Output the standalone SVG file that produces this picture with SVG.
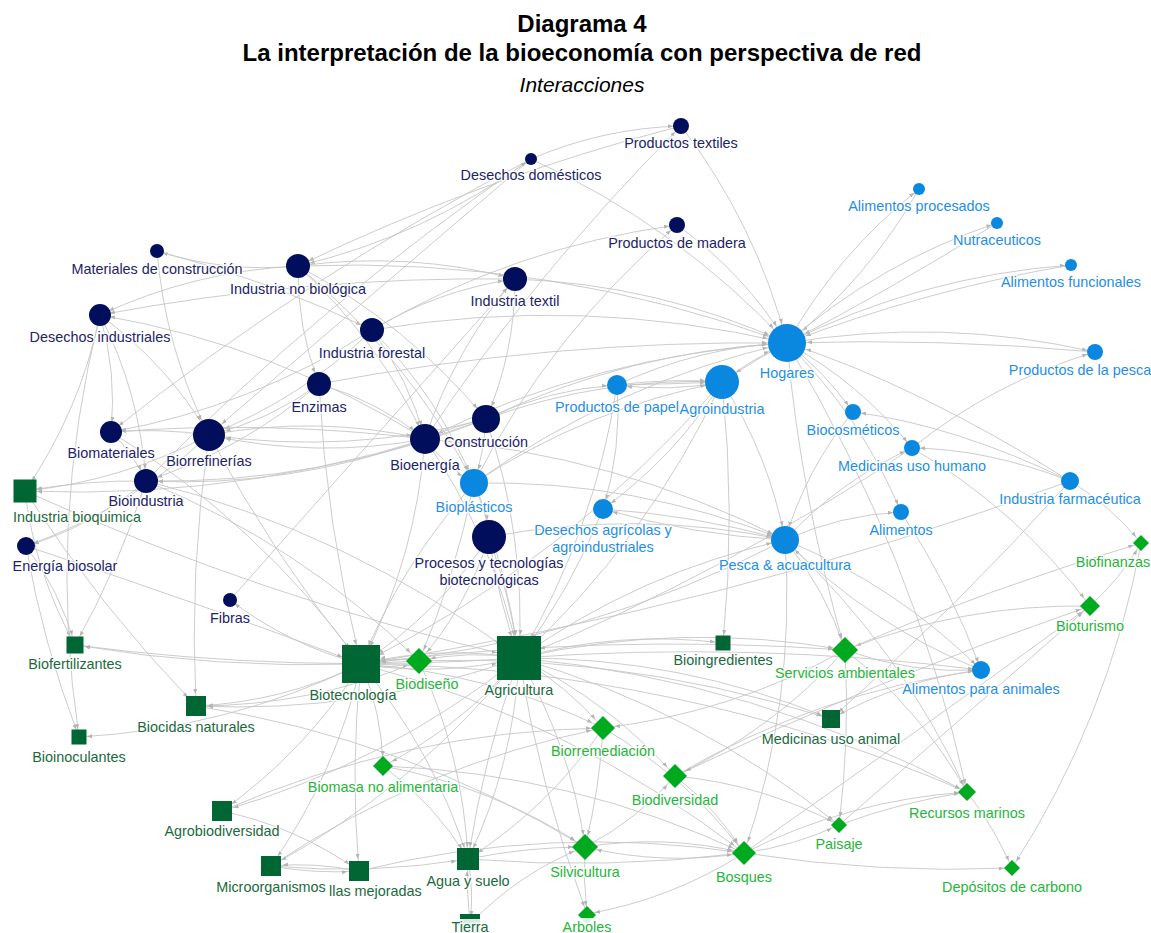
<svg xmlns="http://www.w3.org/2000/svg" width="1151" height="933" viewBox="0 0 1151 933">
<style>
.t{font-family:"Liberation Sans",Arial,sans-serif;text-anchor:middle;fill:#000}
.lb{font-family:"Liberation Sans",Arial,sans-serif;font-size:14.4px;text-anchor:middle;paint-order:stroke;stroke:#fff;stroke-width:3;stroke-opacity:.8;stroke-linejoin:round}
.st{text-anchor:start}
.nv{fill:#000e5c}.nvl{fill:#1c2468}
.bl{fill:#0a88e0}.bll{fill:#1f8fe3}
.dg{fill:#006633}.dgl{fill:#1b6a3d}
.bg{fill:#00aa1e}.bgl{fill:#26b53a}
#connectors path{fill:none;stroke:#c6c6c6;stroke-width:.9}
.m6{marker-end:url(#m6)}.m8{marker-end:url(#m8)}.m10{marker-end:url(#m10)}.m12{marker-end:url(#m12)}
.m14{marker-end:url(#m14)}.m17{marker-end:url(#m17)}.m20{marker-end:url(#m20)}.m23{marker-end:url(#m23)}
.box{fill:#fff;fill-opacity:.85}
</style>
<defs>
<marker id="m6" markerUnits="userSpaceOnUse" markerWidth="6" markerHeight="5" refX="11" refY="2" orient="auto"><path d="M0,0L5,2L0,4z" fill="#b4b4b4"/></marker>
<marker id="m8" markerUnits="userSpaceOnUse" markerWidth="6" markerHeight="5" refX="13" refY="2" orient="auto"><path d="M0,0L5,2L0,4z" fill="#b4b4b4"/></marker>
<marker id="m10" markerUnits="userSpaceOnUse" markerWidth="6" markerHeight="5" refX="15" refY="2" orient="auto"><path d="M0,0L5,2L0,4z" fill="#b4b4b4"/></marker>
<marker id="m12" markerUnits="userSpaceOnUse" markerWidth="6" markerHeight="5" refX="17" refY="2" orient="auto"><path d="M0,0L5,2L0,4z" fill="#b4b4b4"/></marker>
<marker id="m14" markerUnits="userSpaceOnUse" markerWidth="6" markerHeight="5" refX="19" refY="2" orient="auto"><path d="M0,0L5,2L0,4z" fill="#b4b4b4"/></marker>
<marker id="m17" markerUnits="userSpaceOnUse" markerWidth="6" markerHeight="5" refX="22" refY="2" orient="auto"><path d="M0,0L5,2L0,4z" fill="#b4b4b4"/></marker>
<marker id="m20" markerUnits="userSpaceOnUse" markerWidth="6" markerHeight="5" refX="25" refY="2" orient="auto"><path d="M0,0L5,2L0,4z" fill="#b4b4b4"/></marker>
<marker id="m23" markerUnits="userSpaceOnUse" markerWidth="6" markerHeight="5" refX="28" refY="2" orient="auto"><path d="M0,0L5,2L0,4z" fill="#b4b4b4"/></marker>
</defs>
<rect width="1151" height="933" fill="#fff"/>
<g id="title">
<text class="t" x="582" y="32" font-size="24" font-weight="bold">Diagrama 4</text>
<text class="t" x="582" y="61" font-size="24" font-weight="bold">La interpretación de la bioeconomía con perspectiva de red</text>
<text class="t" x="582" y="92" font-size="21" font-style="italic">Interacciones</text>
</g>
<g id="connectors">
<path class="m20" d="M681,126Q756,224 787,343"/>
<path class="m8" d="M531,159Q603,128 681,126"/>
<path class="m8" d="M425,439Q537,270 681,126"/>
<path class="m12" d="M681,126Q483,177 298,266"/>
<path class="m20" d="M531,159Q677,225 787,343"/>
<path class="m12" d="M531,159Q425,236 298,266"/>
<path class="m17" d="M531,159Q372,294 209,435"/>
<path class="m10" d="M531,159Q307,275 111,432"/>
<path class="m6" d="M146,481Q322,301 531,159"/>
<path class="m8" d="M474,483Q550,334 677,225"/>
<path class="m8" d="M372,330Q514,247 677,225"/>
<path class="m20" d="M677,225Q744,273 787,343"/>
<path class="m20" d="M515,279Q657,284 787,343"/>
<path class="m12" d="M298,266Q408,251 515,279"/>
<path class="m20" d="M298,266Q550,256 787,343"/>
<path class="m14" d="M515,279Q515,352 486,419"/>
<path class="m12" d="M372,330Q438,290 515,279"/>
<path class="m12" d="M425,439Q454,350 515,279"/>
<path class="m6" d="M298,266Q226,273 157,251"/>
<path class="m10" d="M298,266Q194,271 100,315"/>
<path class="m10" d="M425,439Q275,345 100,315"/>
<path class="m10" d="M515,279Q306,276 100,315"/>
<path class="m12" d="M157,251Q269,280 372,330"/>
<path class="m17" d="M157,251Q165,348 209,435"/>
<path class="m12" d="M100,315Q80,411 25,491"/>
<path class="m10" d="M100,315Q117,372 111,432"/>
<path class="m12" d="M100,315Q140,393 146,481"/>
<path class="m17" d="M100,315Q167,364 209,435"/>
<path class="m12" d="M298,266Q297,327 319,384"/>
<path class="m14" d="M298,266Q379,340 425,439"/>
<path class="m14" d="M298,266Q407,324 486,419"/>
<path class="m14" d="M298,266Q408,357 474,483"/>
<path class="m17" d="M372,330Q301,399 209,435"/>
<path class="m14" d="M372,330Q409,379 425,439"/>
<path class="m14" d="M372,330Q438,396 474,483"/>
<path class="m10" d="M372,330Q252,407 111,432"/>
<path class="m20" d="M372,330Q581,295 787,343"/>
<path class="m17" d="M319,384Q269,421 209,435"/>
<path class="m12" d="M319,384Q242,450 146,481"/>
<path class="m14" d="M319,384Q378,401 425,439"/>
<path class="m20" d="M319,384Q326,526 361,664"/>
<path class="m20" d="M319,384Q551,340 787,343"/>
<path class="m17" d="M425,439Q317,459 209,435"/>
<path class="m14" d="M209,435Q317,415 425,439"/>
<path class="m17" d="M486,419Q349,455 209,435"/>
<path class="m12" d="M486,419Q322,484 146,481"/>
<path class="m12" d="M425,439Q290,488 146,481"/>
<path class="m14" d="M486,419Q457,425 425,439"/>
<path class="m10" d="M425,439Q268,420 111,432"/>
<path class="m10" d="M209,435Q160,428 111,432"/>
<path class="m12" d="M209,435Q123,481 25,491"/>
<path class="m12" d="M146,481Q86,480 25,491"/>
<path class="m12" d="M486,419Q263,501 25,491"/>
<path class="m8" d="M146,481Q93,526 26,546"/>
<path class="m8" d="M209,435Q129,509 26,546"/>
<path class="m12" d="M111,432Q133,453 146,481"/>
<path class="m10" d="M25,491Q35,573 75,645"/>
<path class="m10" d="M26,546Q60,591 75,645"/>
<path class="m8" d="M26,546Q43,644 79,737"/>
<path class="m8" d="M100,315Q47,524 79,737"/>
<path class="m10" d="M146,481Q119,567 75,645"/>
<path class="m12" d="M25,491Q100,607 196,706"/>
<path class="m20" d="M26,546Q190,600 361,664"/>
<path class="m12" d="M209,435Q189,571 196,706"/>
<path class="m20" d="M209,435Q274,557 361,664"/>
<path class="m12" d="M146,481Q300,544 419,661"/>
<path class="m6" d="M361,664Q289,645 230,600"/>
<path class="m12" d="M230,600Q372,440 515,279"/>
<path class="m17" d="M617,385Q670,378 722,382"/>
<path class="m10" d="M722,382Q670,392 617,385"/>
<path class="m17" d="M617,385Q670,384 722,382"/>
<path class="m10" d="M486,419Q548,389 617,385"/>
<path class="m17" d="M486,419Q600,377 722,382"/>
<path class="m20" d="M486,419Q629,351 787,343"/>
<path class="m20" d="M425,439Q596,355 787,343"/>
<path class="m20" d="M474,483Q617,382 787,343"/>
<path class="m17" d="M474,483Q588,408 722,382"/>
<path class="m14" d="M425,439Q445,466 474,483"/>
<path class="m14" d="M486,419Q484,452 474,483"/>
<path class="m17" d="M474,483Q486,508 489,537"/>
<path class="m10" d="M617,385Q622,448 603,509"/>
<path class="m10" d="M722,382Q675,457 603,509"/>
<path class="m14" d="M489,537Q637,509 785,540"/>
<path class="m14" d="M474,483Q635,480 785,540"/>
<path class="m14" d="M603,509Q694,515 785,540"/>
<path class="m14" d="M425,439Q615,454 785,540"/>
<path class="m10" d="M785,540Q692,535 603,509"/>
<path class="m14" d="M722,382Q769,455 785,540"/>
<path class="m17" d="M787,343Q758,358 722,382"/>
<path class="m20" d="M722,382Q750,360 787,343"/>
<path class="m20" d="M617,385Q698,347 787,343"/>
<path class="m8" d="M722,382Q736,513 723,643"/>
<path class="m8" d="M519,658Q620,630 723,643"/>
<path class="m8" d="M787,343Q824,371 853,412"/>
<path class="m8" d="M787,343Q860,383 912,448"/>
<path class="m8" d="M787,343Q861,416 901,512"/>
<path class="m8" d="M1070,481Q955,425 853,412"/>
<path class="m8" d="M1070,481Q988,449 912,448"/>
<path class="m20" d="M1070,481Q915,384 787,343"/>
<path class="m8" d="M912,448Q994,382 1095,352"/>
<path class="m6" d="M787,343Q838,253 919,189"/>
<path class="m20" d="M919,189Q868,279 787,343"/>
<path class="m6" d="M787,343Q880,262 997,223"/>
<path class="m20" d="M997,223Q890,290 787,343"/>
<path class="m6" d="M787,343Q921,276 1071,265"/>
<path class="m20" d="M1071,265Q925,290 787,343"/>
<path class="m8" d="M787,343Q942,317 1095,352"/>
<path class="m20" d="M1095,352Q941,338 787,343"/>
<path class="m10" d="M1070,481Q957,607 831,719"/>
<path class="m8" d="M1070,481Q1110,505 1141,543"/>
<path class="m10" d="M912,448Q1017,509 1090,606"/>
<path class="m8" d="M901,512Q950,585 981,670"/>
<path class="m8" d="M785,540Q840,515 901,512"/>
<path class="m8" d="M785,540Q839,481 912,448"/>
<path class="m8" d="M845,650Q911,674 981,670"/>
<path class="m12" d="M1090,606Q963,604 845,650"/>
<path class="m8" d="M845,650Q990,588 1141,543"/>
<path class="m12" d="M785,540Q826,590 845,650"/>
<path class="m12" d="M787,343Q801,499 845,650"/>
<path class="m8" d="M785,540Q896,585 981,670"/>
<path class="m14" d="M981,670Q870,625 785,540"/>
<path class="m14" d="M853,412Q806,469 785,540"/>
<path class="m8" d="M845,650Q920,709 967,792"/>
<path class="m8" d="M785,540Q901,648 967,792"/>
<path class="m8" d="M787,343Q915,555 967,792"/>
<path class="m8" d="M967,792Q994,827 1012,868"/>
<path class="m8" d="M1141,543Q1109,718 1012,868"/>
<path class="m8" d="M1090,606Q1120,579 1141,543"/>
<path class="m10" d="M839,825Q962,718 1090,606"/>
<path class="m10" d="M744,853Q914,734 1090,606"/>
<path class="m10" d="M675,776Q877,679 1090,606"/>
<path class="m10" d="M981,670Q900,680 831,719"/>
<path class="m20" d="M519,658Q440,645 361,664"/>
<path class="m23" d="M361,664Q440,677 519,658"/>
<path class="m20" d="M419,661Q390,656 361,664"/>
<path class="m12" d="M519,658Q469,650 419,661"/>
<path class="m12" d="M361,664Q390,671 419,661"/>
<path class="m10" d="M361,664Q217,669 75,645"/>
<path class="m10" d="M519,658Q296,674 75,645"/>
<path class="m12" d="M361,664Q283,702 196,706"/>
<path class="m12" d="M519,658Q362,714 196,706"/>
<path class="m8" d="M361,664Q227,729 79,737"/>
<path class="m12" d="M196,706Q405,738 585,847"/>
<path class="m12" d="M361,664Q306,751 222,811"/>
<path class="m12" d="M519,658Q386,764 222,811"/>
<path class="m12" d="M222,811Q297,827 359,871"/>
<path class="m12" d="M359,871Q315,862 271,866"/>
<path class="m12" d="M271,866Q315,874 359,871"/>
<path class="m12" d="M361,664Q336,774 271,866"/>
<path class="m12" d="M519,658Q416,787 271,866"/>
<path class="m12" d="M361,664Q350,767 359,871"/>
<path class="m12" d="M361,664Q434,751 468,859"/>
<path class="m12" d="M519,658Q514,764 468,859"/>
<path class="m12" d="M519,658Q484,756 468,859"/>
<path class="m12" d="M470,924Q466,891 468,859"/>
<path class="m8" d="M468,859Q474,891 470,924"/>
<path class="m12" d="M470,924Q520,872 585,847"/>
<path class="m12" d="M468,859Q526,847 585,847"/>
<path class="m12" d="M359,871Q550,824 744,853"/>
<path class="m12" d="M361,664Q571,720 744,853"/>
<path class="m12" d="M361,664Q488,672 603,728"/>
<path class="m12" d="M519,658Q566,685 603,728"/>
<path class="m12" d="M519,658Q609,701 675,776"/>
<path class="m12" d="M519,658Q571,746 585,847"/>
<path class="m8" d="M519,658Q540,789 587,914"/>
<path class="m12" d="M603,728Q600,787 585,847"/>
<path class="m12" d="M675,776Q716,808 744,853"/>
<path class="m12" d="M603,728Q686,776 744,853"/>
<path class="m12" d="M585,847Q637,820 675,776"/>
<path class="m8" d="M585,847Q583,880 587,914"/>
<path class="m8" d="M744,853Q672,899 587,914"/>
<path class="m12" d="M744,853Q664,866 585,847"/>
<path class="m12" d="M585,847Q665,834 744,853"/>
<path class="m8" d="M744,853Q794,846 839,825"/>
<path class="m8" d="M744,853Q849,800 967,792"/>
<path class="m8" d="M744,853Q879,874 1012,868"/>
<path class="m8" d="M839,825Q901,802 967,792"/>
<path class="m8" d="M675,776Q762,784 839,825"/>
<path class="m8" d="M519,658Q696,710 839,825"/>
<path class="m8" d="M519,658Q756,680 967,792"/>
<path class="m8" d="M361,664Q677,667 967,792"/>
<path class="m10" d="M519,658Q681,657 831,719"/>
<path class="m10" d="M361,664Q602,645 831,719"/>
<path class="m12" d="M519,658Q681,621 845,650"/>
<path class="m8" d="M519,658Q751,641 981,670"/>
<path class="m12" d="M361,664Q602,633 845,650"/>
<path class="m12" d="M785,540Q796,701 744,853"/>
<path class="m12" d="M845,650Q732,713 603,728"/>
<path class="m8" d="M845,650Q850,738 839,825"/>
<path class="m12" d="M845,650Q773,730 675,776"/>
<path class="m8" d="M675,776Q817,692 981,670"/>
<path class="m10" d="M361,664Q382,713 383,766"/>
<path class="m10" d="M519,658Q462,726 383,766"/>
<path class="m12" d="M383,766Q572,773 744,853"/>
<path class="m12" d="M383,766Q492,786 585,847"/>
<path class="m12" d="M383,766Q435,804 468,859"/>
<path class="m12" d="M419,661Q463,755 468,859"/>
<path class="m23" d="M489,537Q510,596 519,658"/>
<path class="m23" d="M489,537Q498,599 519,658"/>
<path class="m23" d="M474,483Q506,567 519,658"/>
<path class="m12" d="M474,483Q455,577 419,661"/>
<path class="m20" d="M474,483Q400,566 361,664"/>
<path class="m23" d="M486,419Q526,535 519,658"/>
<path class="m23" d="M425,439Q494,539 519,658"/>
<path class="m20" d="M425,439Q416,558 361,664"/>
<path class="m23" d="M617,385Q595,531 519,658"/>
<path class="m23" d="M722,382Q648,540 519,658"/>
<path class="m23" d="M603,509Q571,590 519,658"/>
<path class="m20" d="M722,382Q570,559 361,664"/>
<path class="m14" d="M519,658Q640,572 785,540"/>
<path class="m20" d="M785,540Q585,644 361,664"/>
<path class="m20" d="M1070,481Q725,608 361,664"/>
<path class="m23" d="M912,448Q726,573 519,658"/>
<path class="m12" d="M419,661Q312,706 196,706"/>
<path class="m23" d="M25,491Q264,599 519,658"/>
<path class="m23" d="M146,481Q350,532 519,658"/>
<path class="m20" d="M111,432Q259,523 361,664"/>
<path class="m20" d="M489,537Q438,614 361,664"/>
<path class="m12" d="M489,537Q466,609 419,661"/>
<path class="m12" d="M222,811Q404,731 603,728"/>
<path class="m12" d="M271,866Q423,764 603,728"/>
<path class="m12" d="M603,728Q549,807 468,859"/>
<path class="m12" d="M468,859Q606,870 744,853"/>
<path class="m12" d="M271,866Q370,875 468,859"/>
</g>
<g id="n-productos-textiles"><circle class="nv" cx="681" cy="126" r="8"/><text class="lb nvl" x="681" y="148">Productos textiles</text></g>
<g id="n-desechos-domesticos"><circle class="nv" cx="531" cy="159" r="6"/><text class="lb nvl" x="531" y="180">Desechos domésticos</text></g>
<g id="n-productos-madera"><circle class="nv" cx="677" cy="225" r="8"/><text class="lb nvl" x="677" y="248">Productos de madera</text></g>
<g id="n-materiales-construccion"><circle class="nv" cx="157" cy="251" r="7"/><text class="lb nvl" x="157" y="274">Materiales de construcción</text></g>
<g id="n-industria-no-biologica"><circle class="nv" cx="298" cy="266" r="12"/><text class="lb nvl" x="298" y="294">Industria no biológica</text></g>
<g id="n-industria-textil"><circle class="nv" cx="515" cy="279" r="12"/><text class="lb nvl" x="515" y="306">Industria textil</text></g>
<g id="n-desechos-industriales"><circle class="nv" cx="100" cy="315" r="11"/><text class="lb nvl" x="100" y="342">Desechos industriales</text></g>
<g id="n-industria-forestal"><circle class="nv" cx="372" cy="330" r="12"/><text class="lb nvl" x="372" y="358">Industria forestal</text></g>
<g id="n-enzimas"><circle class="nv" cx="319" cy="384" r="12"/><text class="lb nvl" x="319" y="412">Enzimas</text></g>
<g id="n-biomateriales"><circle class="nv" cx="111" cy="432" r="11"/><text class="lb nvl" x="111" y="458">Biomateriales</text></g>
<g id="n-biorrefinerias"><circle class="nv" cx="209" cy="435" r="16"/><text class="lb nvl" x="209" y="466">Biorrefinerías</text></g>
<g id="n-bioenergia"><circle class="nv" cx="425" cy="439" r="15"/><text class="lb nvl" x="425" y="470">Bioenergía</text></g>
<g id="n-construccion"><circle class="nv" cx="486" cy="419" r="14"/><text class="lb nvl" x="486" y="447">Construcción</text></g>
<g id="n-bioindustria"><circle class="nv" cx="146" cy="481" r="12"/><text class="lb nvl" x="146" y="506">Bioindustria</text></g>
<g id="n-energia-biosolar"><circle class="nv" cx="26" cy="546" r="9"/><text class="lb nvl" x="65" y="571">Energía biosolar</text></g>
<g id="n-fibras"><circle class="nv" cx="230" cy="600" r="7"/><text class="lb nvl" x="230" y="623">Fibras</text></g>
<g id="n-procesos"><circle class="nv" cx="489" cy="537" r="17"/><text class="lb nvl" x="489" y="568">Procesos y tecnologías</text><text class="lb nvl" x="489" y="585">biotecnológicas</text></g>
<g id="n-alimentos-procesados"><circle class="bl" cx="919" cy="189" r="6"/><text class="lb bll" x="919" y="211">Alimentos procesados</text></g>
<g id="n-nutraceuticos"><circle class="bl" cx="997" cy="223" r="6"/><text class="lb bll" x="997" y="245">Nutraceuticos</text></g>
<g id="n-alimentos-funcionales"><circle class="bl" cx="1071" cy="265" r="6"/><text class="lb bll" x="1071" y="287">Alimentos funcionales</text></g>
<g id="n-hogares"><circle class="bl" cx="787" cy="343" r="19"/><text class="lb bll" x="787" y="378">Hogares</text></g>
<g id="n-productos-pesca"><circle class="bl" cx="1095" cy="352" r="8"/><text class="lb bll" x="1080" y="375">Productos de la pesca</text></g>
<g id="n-agroindustria"><circle class="bl" cx="722" cy="382" r="17"/><text class="lb bll" x="722" y="414">Agroindustria</text></g>
<g id="n-productos-papel"><circle class="bl" cx="617" cy="385" r="10"/><text class="lb bll" x="617" y="412">Productos de papel</text></g>
<g id="n-biocosmeticos"><circle class="bl" cx="853" cy="412" r="8"/><text class="lb bll" x="853" y="435">Biocosméticos</text></g>
<g id="n-medicinas-humano"><circle class="bl" cx="912" cy="448" r="8"/><text class="lb bll" x="912" y="471">Medicinas uso humano</text></g>
<g id="n-industria-farmaceutica"><circle class="bl" cx="1070" cy="481" r="9"/><text class="lb bll" x="1070" y="504">Industria farmacéutica</text></g>
<g id="n-bioplasticos"><circle class="bl" cx="474" cy="483" r="14"/><text class="lb bll" x="474" y="512">Bioplásticos</text></g>
<g id="n-desechos-agricolas"><circle class="bl" cx="603" cy="509" r="10"/><text class="lb bll" x="603" y="535">Desechos agrícolas y</text><text class="lb bll" x="603" y="552">agroindustriales</text></g>
<g id="n-alimentos"><circle class="bl" cx="901" cy="512" r="8"/><text class="lb bll" x="901" y="535">Alimentos</text></g>
<g id="n-pesca-acuacultura"><circle class="bl" cx="785" cy="540" r="14"/><text class="lb bll" x="785" y="570">Pesca &amp; acuacultura</text></g>
<g id="n-alimentos-animales"><circle class="bl" cx="981" cy="670" r="9"/><text class="lb bll" x="981" y="694">Alimentos para animales</text></g>
<g id="n-industria-bioquimica"><rect class="dg" x="13.5" y="479.5" width="23" height="23"/><text class="lb dgl" x="77" y="522">Industria bioquimica</text></g>
<g id="n-biofertilizantes"><rect class="dg" x="66.5" y="636.5" width="17" height="17"/><text class="lb dgl" x="75" y="669">Biofertilizantes</text></g>
<g id="n-biotecnologia"><rect class="dg" x="342" y="645" width="38" height="38"/><text class="lb dgl" x="353" y="700">Biotecnología</text></g>
<g id="n-agricultura"><rect class="dg" x="497" y="636" width="44" height="44"/><text class="lb dgl" x="519" y="695">Agricultura</text></g>
<g id="n-bioingredientes"><rect class="dg" x="715.5" y="635.5" width="15" height="15"/><text class="lb dgl" x="723" y="665">Bioingredientes</text></g>
<g id="n-biocidas"><rect class="dg" x="186" y="696" width="20" height="20"/><text class="lb dgl" x="196" y="732">Biocidas naturales</text></g>
<g id="n-bioinoculantes"><rect class="dg" x="71.5" y="729.5" width="15" height="15"/><text class="lb dgl" x="79" y="762">Bioinoculantes</text></g>
<g id="n-medicinas-animal"><rect class="dg" x="822" y="710" width="18" height="18"/><text class="lb dgl" x="831" y="744">Medicinas uso animal</text></g>
<g id="n-agrobiodiversidad"><rect class="dg" x="212" y="801" width="20" height="20"/><text class="lb dgl" x="222" y="836">Agrobiodiversidad</text></g>
<g id="n-semillas"><rect class="dg" x="349" y="861" width="20" height="20"/><text class="lb dgl st" x="329" y="896">llas mejoradas</text></g>
<g id="n-microorganismos"><rect class="dg" x="261" y="856" width="20" height="20"/><text class="lb dgl" x="271" y="892">Microorganismos</text></g>
<g id="n-agua-suelo"><rect class="dg" x="457" y="848" width="22" height="22"/><text class="lb dgl" x="468" y="886">Agua y suelo</text></g>
<g id="n-tierra"><rect class="dg" x="460" y="914" width="20" height="20"/><rect class="box" x="448" y="919" width="44" height="14"/><text class="lb dgl" x="470" y="932">Tierra</text></g>
<g id="n-biodiseno"><polygon class="bg" points="419,648 432,661 419,674 406,661"/><text class="lb bgl" x="427" y="689">Biodiseño</text></g>
<g id="n-servicios-ambientales"><polygon class="bg" points="845,637 858,650 845,663 832,650"/><text class="lb bgl" x="845" y="678">Servicios ambientales</text></g>
<g id="n-biofinanzas"><polygon class="bg" points="1141,535 1149,543 1141,551 1133,543"/><text class="lb bgl" x="1113" y="567">Biofinanzas</text></g>
<g id="n-bioturismo"><polygon class="bg" points="1090,596 1100,606 1090,616 1080,606"/><text class="lb bgl" x="1090" y="631">Bioturismo</text></g>
<g id="n-biorremediacion"><polygon class="bg" points="603,716 615,728 603,740 591,728"/><text class="lb bgl" x="603" y="756">Biorremediación</text></g>
<g id="n-biomasa"><polygon class="bg" points="383,756 393,766 383,776 373,766"/><text class="lb bgl" x="383" y="792">Biomasa no alimentaria</text></g>
<g id="n-biodiversidad"><polygon class="bg" points="675,764 687,776 675,788 663,776"/><text class="lb bgl" x="675" y="805">Biodiversidad</text></g>
<g id="n-recursos-marinos"><polygon class="bg" points="967,783 976,792 967,801 958,792"/><text class="lb bgl" x="967" y="818">Recursos marinos</text></g>
<g id="n-paisaje"><polygon class="bg" points="839,817 847,825 839,833 831,825"/><text class="lb bgl" x="839" y="849">Paisaje</text></g>
<g id="n-silvicultura"><polygon class="bg" points="585,834 598,847 585,860 572,847"/><text class="lb bgl" x="585" y="877">Silvicultura</text></g>
<g id="n-bosques"><polygon class="bg" points="744,841 756,853 744,865 732,853"/><text class="lb bgl" x="744" y="882">Bosques</text></g>
<g id="n-depositos-carbono"><polygon class="bg" points="1012,860 1020,868 1012,876 1004,868"/><text class="lb bgl" x="1012" y="892">Depósitos de carbono</text></g>
<g id="n-arboles"><polygon class="bg" points="587,906 596,915 587,924 578,915"/><rect class="box" x="560" y="918" width="54" height="15"/><text class="lb bgl" x="587" y="932">Arboles</text></g>
</svg>
